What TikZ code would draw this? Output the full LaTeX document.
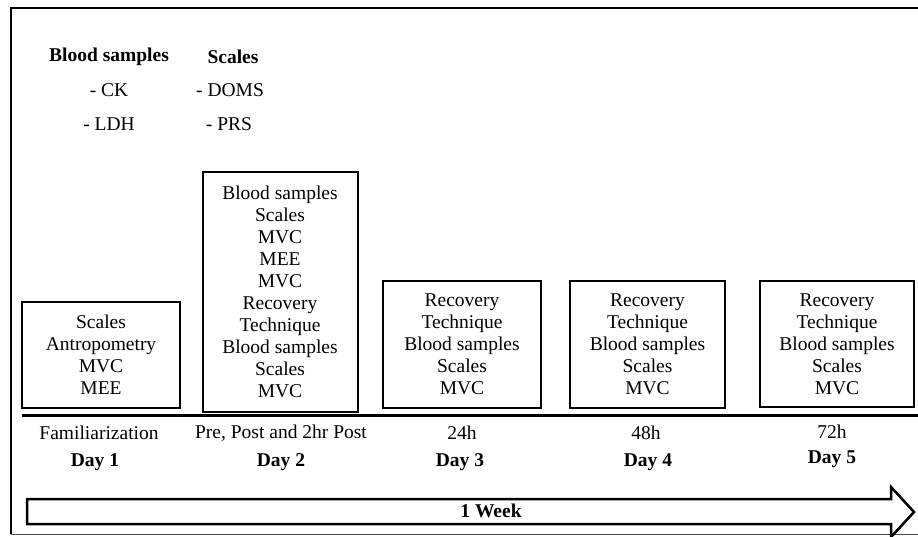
\documentclass[tikz,border=0pt]{standalone}
\usepackage{fontspec}
\setmainfont{Liberation Serif}
\begin{document}
\begin{tikzpicture}[x=1pt,y=-1pt,
  txt/.style={font=\fontsize{19.5}{22}\selectfont, inner sep=0pt, align=center},
  btxt/.style={font=\fontsize{19.5}{22}\selectfont\bfseries, inner sep=0pt, align=center},
  daybox/.style={draw, line width=2pt, inner sep=0pt, font=\fontsize{19.5}{22}\selectfont, align=center}]
\useasboundingbox (0,0) rectangle (918,536);
% outer frame
\draw[line width=2.5pt] (930,8) -- (11,8) -- (11,534);
\draw[line width=1pt, black!70] (11,534) -- (930,534);
% top legend
\node[btxt] (hb) at (109,57) {Blood samples};
\node[btxt] (hs) at (233,57) {Scales};
\node[txt] (ck) at (109,90) {- CK};
\node[txt] (ldh) at (109,124) {- LDH};
\node[txt] (doms) at (230,90) {- DOMS};
\node[txt] (prs) at (229,124) {- PRS};
% boxes
\node[daybox, minimum width=158pt, minimum height=106pt] (b1) at (101,355)
  {Scales\\Antropometry\\MVC\\MEE};
\node[daybox, minimum width=155pt, minimum height=240pt] (b2) at (280,291.5)
  {Blood samples\\Scales\\MVC\\MEE\\MVC\\Recovery\\Technique\\Blood samples\\Scales\\MVC};
\node[daybox, minimum width=158pt, minimum height=127pt] (b3) at (462,344.5)
  {Recovery\\Technique\\Blood samples\\Scales\\MVC};
\node[daybox, minimum width=155pt, minimum height=127pt] (b4) at (647.5,344.5)
  {Recovery\\Technique\\Blood samples\\Scales\\MVC};
\node[daybox, minimum width=154pt, minimum height=126pt] (b5) at (837,344)
  {Recovery\\Technique\\Blood samples\\Scales\\MVC};
% timeline
\coordinate (tl) at (22,415);
\coordinate (tr) at (918,415);
\draw[line width=3pt] (tl) -- (tr);
% labels
\node[txt] (l1) at (99,433) {Familiarization};
\node[btxt] (d1) at (95,462) {Day 1};
\node[txt] (l2) at (281,433) {Pre, Post and 2hr Post};
\node[btxt] (d2) at (281,462) {Day 2};
\node[txt] (l3) at (462,433) {24h};
\node[btxt] (d3) at (460,462) {Day 3};
\node[txt] (l4) at (646,433) {48h};
\node[btxt] (d4) at (648,462) {Day 4};
\node[txt] (l5) at (832,432) {72h};
\node[btxt] (d5) at (832,459) {Day 5};
% week arrow
\draw[line width=2.5pt, line join=miter] (27,499) -- (891,499) -- (891,487) -- (914,512)
  -- (891,537) -- (891,524) -- (27,524) -- cycle;
\node[btxt] (wk) at (491,511) {1 Week};
\end{tikzpicture}
\end{document}
